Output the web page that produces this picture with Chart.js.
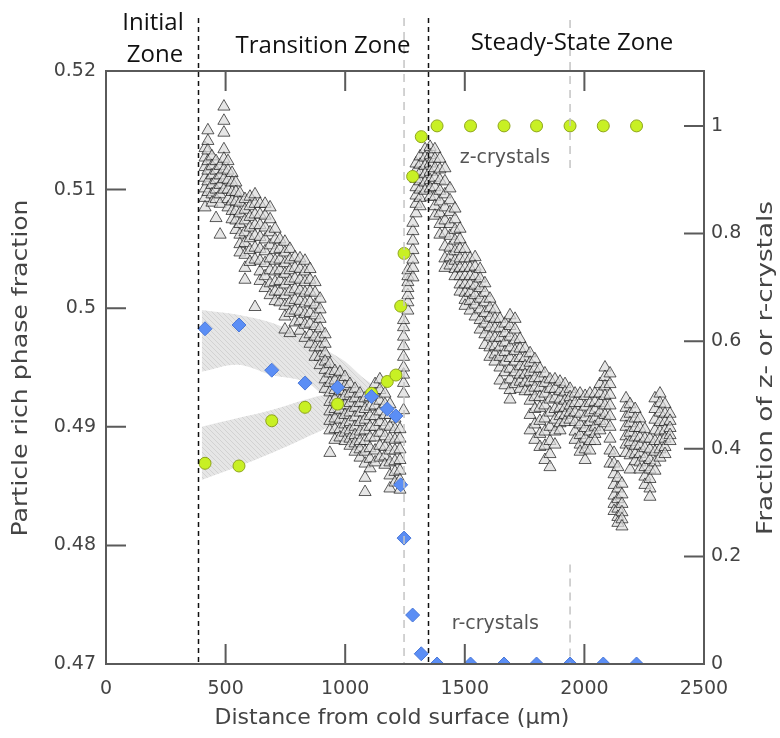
<!DOCTYPE html>
<html>
<head>
<meta charset="utf-8">
<script src="https://cdn.jsdelivr.net/npm/chart.js@4.4.1/dist/chart.umd.min.js"></script>
<style>
  body { margin: 0; background: #fff; }
  canvas { display: block; }
</style>
</head>
<body>
<canvas id="chart" width="780" height="738"></canvas>
<script>
// crystal fractions (right axis), distance in um
const crystalX = [414, 556, 693, 832, 968, 1110, 1176, 1212, 1232, 1246, 1282, 1318, 1384, 1524, 1664, 1800, 1940, 2079, 2218];
const zFraction = [0.373, 0.368, 0.452, 0.477, 0.483, 0.503, 0.525, 0.537, 0.665, 0.763, 0.906, 0.980, 1, 1, 1, 1, 1, 1, 1];
const rFraction = [0.623, 0.630, 0.546, 0.522, 0.514, 0.497, 0.474, 0.461, 0.333, 0.234, 0.091, 0.019, 0, 0, 0, 0, 0, 0, 0];

// shaded uncertainty bands round the two fractions
const bandX = [400, 552, 693, 832, 915, 1000, 1069, 1150];
const rBandHigh = [0.658, 0.649, 0.634, 0.606, 0.585, 0.562, 0.534, 0.510];
const rBandLow = [0.543, 0.556, 0.537, 0.525, 0.500, 0.500, 0.502, 0.510];
const zBandHigh = [0.441, 0.457, 0.472, 0.491, 0.500, 0.500, 0.502, 0.510];
const zBandLow = [0.342, 0.367, 0.392, 0.420, 0.437, 0.458, 0.478, 0.510];

// particle rich phase fraction (left axis): one column of readings per distance
const triX = [414, 426, 443, 460, 477, 493, 510, 527, 543, 560, 581, 602, 623, 644, 665, 686, 707, 727, 748, 769,
  790, 811, 832, 853, 874, 895, 916, 936, 957, 978, 999, 1020, 1041, 1062, 1083, 1104, 1125, 1145, 1166, 1187,
  1208, 1229, 1244, 1262, 1283, 1296, 1313, 1334, 1355, 1375, 1396, 1417, 1438, 1459, 1480, 1501, 1522, 1543, 1564, 1584,
  1605, 1626, 1647, 1668, 1689, 1710, 1731, 1752, 1773, 1793, 1814, 1835, 1856, 1877, 1898, 1919, 1940, 1961, 1982, 2003,
  2023, 2044, 2065, 2086, 2107, 2124, 2140, 2157, 2174, 2191, 2212, 2232, 2253, 2274, 2295, 2316, 2337, 2358];
const triY = [
  [0.5135, 0.5127, 0.5119, 0.5110, 0.5101, 0.5093, 0.5085],
  [0.5150, 0.5141, 0.5133, 0.5124, 0.5116, 0.5107, 0.5098],
  [0.5128, 0.5120, 0.5112, 0.5104, 0.5096, 0.5089],
  [0.5124, 0.5116, 0.5108, 0.5100, 0.5092, 0.5076],
  [0.5120, 0.5112, 0.5104, 0.5096, 0.5088, 0.5062],
  [0.5170, 0.5158, 0.5148, 0.5134, 0.5126, 0.5117, 0.5109, 0.5100],
  [0.5124, 0.5116, 0.5108, 0.5100, 0.5092, 0.5085],
  [0.5114, 0.5106, 0.5098, 0.5090, 0.5082, 0.5075],
  [0.5106, 0.5098, 0.5090, 0.5082, 0.5074, 0.5066],
  [0.5097, 0.5089, 0.5080, 0.5071, 0.5062, 0.5054, 0.5047],
  [0.5092, 0.5083, 0.5074, 0.5064, 0.5055, 0.5045, 0.5034, 0.5024],
  [0.5094, 0.5086, 0.5077, 0.5068, 0.5059, 0.5049, 0.5039],
  [0.5096, 0.5088, 0.5079, 0.5070, 0.5061, 0.5051, 0.5041, 0.5001],
  [0.5088, 0.5079, 0.5070, 0.5060, 0.5050, 0.5040, 0.5031, 0.5023],
  [0.5088, 0.5078, 0.5068, 0.5058, 0.5048, 0.5038, 0.5027, 0.5017],
  [0.5085, 0.5075, 0.5064, 0.5053, 0.5042, 0.5032, 0.5021, 0.5011],
  [0.5067, 0.5058, 0.5049, 0.5040, 0.5031, 0.5022, 0.5014, 0.5006],
  [0.5058, 0.5050, 0.5041, 0.5032, 0.5023, 0.5014, 0.5005],
  [0.5056, 0.5047, 0.5038, 0.5029, 0.5020, 0.5011, 0.5002, 0.4993, 0.4982],
  [0.5050, 0.5041, 0.5032, 0.5023, 0.5014, 0.5005, 0.4996, 0.4979],
  [0.5043, 0.5034, 0.5025, 0.5016, 0.5007, 0.4998, 0.4988],
  [0.5042, 0.5033, 0.5024, 0.5015, 0.5006, 0.4997, 0.4989, 0.4981],
  [0.5040, 0.5031, 0.5022, 0.5013, 0.5004, 0.4995, 0.4986, 0.4975],
  [0.5033, 0.5024, 0.5014, 0.5005, 0.4996, 0.4987, 0.4978, 0.4970],
  [0.5022, 0.5013, 0.5003, 0.4994, 0.4985, 0.4976, 0.4967, 0.4959],
  [0.5008, 0.4999, 0.4991, 0.4983, 0.4975, 0.4967, 0.4959, 0.4952],
  [0.4978, 0.4970, 0.4962, 0.4955, 0.4948, 0.4940, 0.4932],
  [0.4953, 0.4945, 0.4937, 0.4929, 0.4921, 0.4913, 0.4905, 0.4897, 0.4878],
  [0.4947, 0.4939, 0.4931, 0.4923, 0.4915, 0.4907, 0.4898, 0.4889],
  [0.4946, 0.4938, 0.4930, 0.4922, 0.4914, 0.4906, 0.4898, 0.4891],
  [0.4942, 0.4934, 0.4926, 0.4918, 0.4910, 0.4902, 0.4895, 0.4888],
  [0.4936, 0.4928, 0.4920, 0.4912, 0.4904, 0.4897, 0.4890, 0.4884],
  [0.4932, 0.4924, 0.4916, 0.4908, 0.4900, 0.4893, 0.4886, 0.4879],
  [0.4928, 0.4920, 0.4912, 0.4904, 0.4896, 0.4888, 0.4881, 0.4874],
  [0.4924, 0.4915, 0.4906, 0.4897, 0.4888, 0.4879, 0.4869, 0.4857, 0.4845],
  [0.4925, 0.4917, 0.4909, 0.4900, 0.4891, 0.4882, 0.4873, 0.4865],
  [0.4936, 0.4927, 0.4918, 0.4909, 0.4900, 0.4891, 0.4880, 0.4870],
  [0.4940, 0.4931, 0.4922, 0.4913, 0.4904, 0.4895, 0.4884, 0.4874],
  [0.4928, 0.4919, 0.4910, 0.4901, 0.4892, 0.4883, 0.4875, 0.4868],
  [0.4919, 0.4910, 0.4900, 0.4890, 0.4880, 0.4870, 0.4859, 0.4848],
  [0.4907, 0.4898, 0.4889, 0.4880, 0.4871, 0.4862, 0.4853],
  [0.4898, 0.4890, 0.4881, 0.4872, 0.4863, 0.4855, 0.4847],
  [0.4914, 0.4928, 0.4937, 0.4944, 0.4950, 0.4959, 0.4968, 0.4976, 0.4984, 0.4990],
  [0.4998, 0.5005, 0.5011, 0.5017, 0.5022, 0.5027, 0.5032],
  [0.5026, 0.5034, 0.5041, 0.5049, 0.5057, 0.5065, 0.5072],
  [0.5080, 0.5088, 0.5095, 0.5102, 0.5109, 0.5116, 0.5122],
  [0.5128, 0.5121, 0.5114, 0.5107, 0.5100, 0.5093, 0.5086],
  [0.5134, 0.5127, 0.5120, 0.5113, 0.5106, 0.5099],
  [0.5136, 0.5129, 0.5122, 0.5115, 0.5108, 0.5101, 0.5094],
  [0.5134, 0.5126, 0.5118, 0.5110, 0.5102, 0.5094, 0.5086, 0.5078],
  [0.5126, 0.5117, 0.5108, 0.5099, 0.5090, 0.5080, 0.5071, 0.5062],
  [0.5118, 0.5107, 0.5096, 0.5085, 0.5074, 0.5063, 0.5052, 0.5042, 0.5034],
  [0.5101, 0.5091, 0.5081, 0.5071, 0.5061, 0.5051, 0.5043, 0.5036],
  [0.5084, 0.5075, 0.5066, 0.5057, 0.5048, 0.5040, 0.5033, 0.5027],
  [0.5067, 0.5058, 0.5050, 0.5042, 0.5034, 0.5027, 0.5020, 0.5014],
  [0.5050, 0.5042, 0.5034, 0.5027, 0.5020, 0.5013, 0.5007, 0.5002],
  [0.5042, 0.5034, 0.5027, 0.5020, 0.5013, 0.5006, 0.4998],
  [0.5043, 0.5035, 0.5027, 0.5019, 0.5011, 0.5003, 0.4993],
  [0.5033, 0.5025, 0.5017, 0.5008, 0.4999, 0.4990, 0.4982],
  [0.5021, 0.5013, 0.5005, 0.4996, 0.4987, 0.4978, 0.4969],
  [0.5008, 0.5000, 0.4992, 0.4984, 0.4976, 0.4967, 0.4959],
  [0.4999, 0.4991, 0.4983, 0.4975, 0.4968, 0.4961, 0.4955],
  [0.4991, 0.4983, 0.4975, 0.4967, 0.4959, 0.4950, 0.4939],
  [0.4987, 0.4979, 0.4971, 0.4963, 0.4955, 0.4946, 0.4935],
  [0.4994, 0.4985, 0.4976, 0.4967, 0.4958, 0.4949, 0.4940, 0.4931, 0.4923],
  [0.4991, 0.4982, 0.4973, 0.4964, 0.4955, 0.4946, 0.4936],
  [0.4974, 0.4966, 0.4958, 0.4951, 0.4944, 0.4938, 0.4932],
  [0.4966, 0.4958, 0.4951, 0.4944, 0.4937, 0.4930],
  [0.4962, 0.4954, 0.4946, 0.4938, 0.4930, 0.4922, 0.4910, 0.4897],
  [0.4957, 0.4949, 0.4941, 0.4933, 0.4925, 0.4915, 0.4902, 0.4889],
  [0.4949, 0.4941, 0.4933, 0.4925, 0.4916, 0.4905, 0.4894, 0.4883],
  [0.4945, 0.4937, 0.4928, 0.4918, 0.4907, 0.4896, 0.4884, 0.4872],
  [0.4940, 0.4932, 0.4923, 0.4912, 0.4900, 0.4888, 0.4877, 0.4866],
  [0.4940, 0.4932, 0.4924, 0.4915, 0.4906, 0.4896, 0.4885],
  [0.4938, 0.4930, 0.4923, 0.4916, 0.4909, 0.4903, 0.4897],
  [0.4936, 0.4929, 0.4922, 0.4916, 0.4910, 0.4904],
  [0.4932, 0.4925, 0.4918, 0.4912, 0.4906],
  [0.4928, 0.4920, 0.4912, 0.4904, 0.4896, 0.4889],
  [0.4928, 0.4920, 0.4911, 0.4902, 0.4893, 0.4885, 0.4879],
  [0.4926, 0.4917, 0.4908, 0.4899, 0.4890, 0.4881, 0.4872],
  [0.4928, 0.4920, 0.4912, 0.4904, 0.4896, 0.4888, 0.4880],
  [0.4928, 0.4921, 0.4914, 0.4907, 0.4900, 0.4894, 0.4888],
  [0.4936, 0.4928, 0.4920, 0.4912, 0.4905, 0.4897],
  [0.4950, 0.4942, 0.4934, 0.4926, 0.4918, 0.4910, 0.4903],
  [0.4945, 0.4936, 0.4927, 0.4918, 0.4909, 0.4900, 0.4890, 0.4880, 0.4869],
  [0.4878, 0.4869, 0.4860, 0.4851, 0.4842, 0.4835, 0.4829],
  [0.4866, 0.4857, 0.4848, 0.4839, 0.4831, 0.4824, 0.4819],
  [0.4852, 0.4843, 0.4835, 0.4828, 0.4822, 0.4816],
  [0.4924, 0.4916, 0.4908, 0.4900, 0.4892, 0.4885, 0.4878],
  [0.4919, 0.4911, 0.4903, 0.4895, 0.4887, 0.4876, 0.4864],
  [0.4915, 0.4907, 0.4899, 0.4891, 0.4884, 0.4877, 0.4871],
  [0.4907, 0.4899, 0.4891, 0.4884, 0.4877, 0.4870, 0.4864],
  [0.4898, 0.4890, 0.4882, 0.4874, 0.4866, 0.4858, 0.4851],
  [0.4890, 0.4881, 0.4872, 0.4864, 0.4856, 0.4848, 0.4841],
  [0.4924, 0.4915, 0.4906, 0.4897, 0.4888, 0.4879, 0.4870, 0.4863],
  [0.4928, 0.4920, 0.4912, 0.4904, 0.4896, 0.4888, 0.4881, 0.4874],
  [0.4919, 0.4911, 0.4904, 0.4897, 0.4890, 0.4883, 0.4877],
  [0.4911, 0.4905, 0.4899, 0.4893, 0.4888]
];

// zone borders (black) and helper lines (grey), um
const zoneEdges = [385, 1346];
const guideLines = [1246, 1940];

const canvas = document.getElementById('chart');
const ctx = canvas.getContext('2d');

const hatch = (() => {
  const c = document.createElement('canvas');
  c.width = 5; c.height = 5;
  const g = c.getContext('2d');
  g.fillStyle = '#e6e6e6';
  g.fillRect(0, 0, 5, 5);
  g.strokeStyle = '#d2d2d2';
  g.lineWidth = 1;
  g.beginPath();
  g.moveTo(0, 0); g.lineTo(5, 5);
  g.moveTo(-2.5, 2.5); g.lineTo(2.5, 7.5);
  g.moveTo(2.5, -2.5); g.lineTo(7.5, 2.5);
  g.stroke();
  return ctx.createPattern(c, 'repeat');
})();

const pts = (xs, ys) => xs.map((x, i) => ({ x, y: ys[i] }));
const triangles = triX.flatMap((x, i) => triY[i].map(y => ({ x, y })));

const band = (data, fill) => ({
  data, yAxisID: 'y2', showLine: true, pointRadius: 0, borderWidth: 0,
  tension: 0.35, fill, backgroundColor: hatch, order: 5
});

const tickFont = { family: 'DejaVu Sans', size: 19 };
const frameColor = '#5a5a5a';

// draws a rotated axis title, stretched a little along its length
function sideTitle(ctx, text, cx, cy, stretch) {
  ctx.save();
  ctx.translate(cx, cy);
  ctx.rotate(-Math.PI / 2);
  ctx.scale(stretch, 1);
  ctx.fillText(text, 0, 0);
  ctx.restore();
}

const overlay = {
  id: 'overlay',
  afterDraw(chart) {
    const { ctx, chartArea: a, scales: { x, y, y2 } } = chart;
    ctx.save();

    // zone borders and guide lines
    ctx.lineWidth = 1.5;
    ctx.strokeStyle = '#c4c4c4';
    ctx.setLineDash([8, 6]);
    ctx.beginPath();
    let gx = x.getPixelForValue(guideLines[0]);
    ctx.moveTo(gx, 18); ctx.lineTo(gx, a.bottom);
    gx = x.getPixelForValue(guideLines[1]);
    ctx.moveTo(gx, 20); ctx.lineTo(gx, y2.getPixelForValue(0.915));
    ctx.moveTo(gx, y2.getPixelForValue(0.185)); ctx.lineTo(gx, a.bottom);
    ctx.stroke();

    ctx.strokeStyle = '#111';
    ctx.setLineDash([5, 4]);
    ctx.beginPath();
    zoneEdges.forEach(v => {
      const px = Math.round(x.getPixelForValue(v)) + 0.5;
      ctx.moveTo(px, 18); ctx.lineTo(px, a.bottom);
    });
    ctx.stroke();
    ctx.setLineDash([]);

    // frame with inward ticks
    ctx.strokeStyle = frameColor;
    ctx.lineWidth = 2;
    ctx.strokeRect(a.left, a.top, a.right - a.left, a.bottom - a.top);
    const len = 20;
    ctx.beginPath();
    x.ticks.forEach(t => {
      if (t.value <= x.min || t.value >= x.max) return;
      const px = x.getPixelForValue(t.value);
      ctx.moveTo(px, a.bottom); ctx.lineTo(px, a.bottom - len);
      ctx.moveTo(px, a.top); ctx.lineTo(px, a.top + len);
    });
    y.ticks.forEach(t => {
      if (t.value <= y.min + 1e-9 || t.value >= y.max - 1e-9) return;
      const py = y.getPixelForValue(t.value);
      ctx.moveTo(a.left, py); ctx.lineTo(a.left + len, py);
    });
    y2.ticks.forEach(t => {
      if (t.value <= 0) return;
      const py = y2.getPixelForValue(t.value);
      ctx.moveTo(a.right, py); ctx.lineTo(a.right - len, py);
    });
    ctx.stroke();

    // series labels
    ctx.fillStyle = '#555';
    ctx.font = '19px "DejaVu Sans"';
    ctx.textAlign = 'center';
    ctx.textBaseline = 'middle';
    ctx.fillText('z-crystals', x.getPixelForValue(1668), y2.getPixelForValue(0.94));
    ctx.fillText('r-crystals', x.getPixelForValue(1628), y2.getPixelForValue(0.074));

    // axis titles
    ctx.fillStyle = '#444';
    ctx.font = '21px "DejaVu Sans"';
    sideTitle(ctx, 'Particle rich phase fraction', 22, 368, 1.2);
    sideTitle(ctx, 'Fraction of z- or r-crystals', 767, 368, 1.25);
    ctx.font = '22px "DejaVu Sans"';
    ctx.fillText('Distance from cold surface (\u03bcm)', 392, 718);

    // zone names
    ctx.fillStyle = '#111';
    ctx.font = '24px "Open Sans"';
    ctx.fillText('Initial', 153, 23);
    ctx.fillText('Zone', 155, 55);
    ctx.fillText('Transition Zone', 323, 46);
    ctx.fillText('Steady-State Zone', 572, 43);
    ctx.restore();
  }
};

new Chart(canvas, {
  type: 'scatter',
  data: {
    datasets: [
      {
        data: pts(crystalX, rFraction), yAxisID: 'y2', pointStyle: 'rectRot',
        pointRadius: 7, backgroundColor: '#5b8ef5', borderColor: '#4a78d8', borderWidth: 1, order: 0
      },
      {
        data: pts(crystalX, zFraction), yAxisID: 'y2', pointStyle: 'circle',
        pointRadius: 6, backgroundColor: '#c8f024', borderColor: '#8fa51c', borderWidth: 1, order: 1
      },
      {
        data: triangles, yAxisID: 'y', pointStyle: 'triangle',
        pointRadius: 7, backgroundColor: 'rgba(220,220,220,0.7)', borderColor: 'rgba(25,25,25,0.7)',
        borderWidth: 1, order: 2
      },
      band(pts(bandX, rBandHigh), false),
      band(pts(bandX, rBandLow), '-1'),
      band(pts(bandX, zBandHigh), false),
      band(pts(bandX, zBandLow), '-1')
    ]
  },
  options: {
    responsive: false,
    animation: false,
    devicePixelRatio: 1,
    layout: { padding: { top: 71 } },
    plugins: { legend: { display: false }, tooltip: { enabled: false } },
    scales: {
      x: {
        type: 'linear', min: 0, max: 2500,
        grid: { display: false, drawTicks: false }, border: { display: false },
        ticks: { stepSize: 500, padding: 14, color: '#444', font: tickFont, maxRotation: 0, callback: v => v },
        afterFit: s => { s.height = 74; }
      },
      y: {
        position: 'left', min: 0.47, max: 0.52,
        grid: { display: false, drawTicks: false }, border: { display: false },
        ticks: { stepSize: 0.01, padding: 10, color: '#444', font: tickFont, callback: v => +v.toFixed(2) },
        afterFit: s => { s.width = 106; }
      },
      y2: {
        position: 'right', min: 0, max: 1.102,
        grid: { display: false, drawTicks: false }, border: { display: false },
        ticks: { stepSize: 0.2, includeBounds: false, padding: 7, color: '#444', font: tickFont, callback: v => +v.toFixed(1) },
        afterFit: s => { s.width = 76; }
      }
    }
  },
  plugins: [overlay]
});
</script>
</body>
</html>
